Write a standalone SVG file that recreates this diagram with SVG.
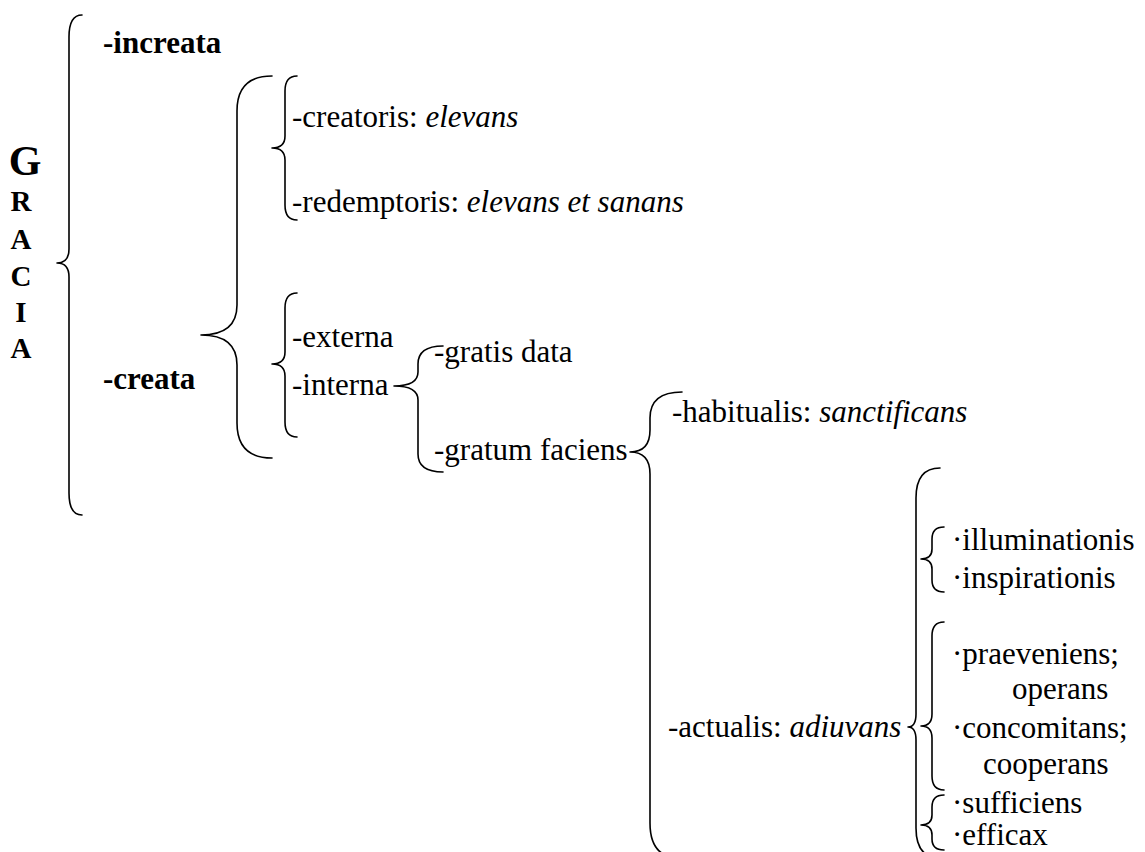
<svg xmlns="http://www.w3.org/2000/svg" width="1145" height="852" viewBox="0 0 1145 852">
<style>
.t{font-family:"Liberation Serif","Times New Roman",serif;font-size:31px;fill:#000}
.b{font-weight:bold}
.i{font-style:italic}
.br{fill:none;stroke:#000;stroke-width:1.6;stroke-linecap:round;stroke-linejoin:round}
.g{font-family:"Liberation Serif","Times New Roman",serif;font-weight:bold;fill:#000;text-anchor:middle}
</style>
<rect width="1145" height="852" fill="#fff"/>
<g id="connectors">
<path class="br" d="M82 15 Q69 15 69 37 L69 249 Q69 263 57 263 Q69 263 69 277 L69 493 Q69 515 82 515"/>
<path class="br" d="M272 76 Q237 76 237 111 L237 305 Q237 335 201 335 Q237 335 237 365 L237 423 Q237 458 272 458"/>
<path class="br" d="M297 76 Q285 76 285 91 L285 136 Q285 148 272 148 Q285 148 285 160 L285 205 Q285 220 297 220"/>
<path class="br" d="M297 293 Q285 293 285 308 L285 352 Q285 364 272 364 Q285 364 285 376 L285 422 Q285 437 297 437"/>
<path class="br" d="M443 346 Q418 346 418 364 L418 372 Q418 386 394 386 Q418 386 418 400 L418 454 Q418 472 443 472"/>
<path class="br" d="M682 392 Q650 392 650 418 L650 430 Q650 452 630 452 Q650 452 650 474 L650 823 Q650 858 680 858"/>
<path class="br" d="M940 468 Q916 468 916 498 L916 714 Q916 727 908 727 Q916 727 916 740 L916 828 Q916 858 940 858"/>
<path class="br" d="M944 527 Q932 527 932 539 L932 549 Q932 559 921 559 Q932 559 932 569 L932 580 Q932 592 944 592"/>
<path class="br" d="M944 622 Q932 622 932 636 L932 714 Q932 726 921 726 Q932 726 932 738 L932 776 Q932 790 944 790"/>
<path class="br" d="M944 795 Q932 795 932 807 L932 815 Q932 825 921 825 Q932 825 932 835 L932 839 Q932 850 944 850"/>
</g>
<g id="gracia">
<text class="g" x="25" y="175" font-size="42">G</text>
<text class="g" x="21" y="211" font-size="29">R</text>
<text class="g" x="21" y="249" font-size="29">A</text>
<text class="g" x="21" y="286" font-size="29">C</text>
<text class="g" x="21" y="322" font-size="29">I</text>
<text class="g" x="21" y="358" font-size="29">A</text>
</g>
<g id="increata"><text class="t b" x="103" y="53">-increata</text></g>
<g id="creata"><text class="t b" x="103" y="389">-creata</text></g>
<g id="creatoris"><text class="t" x="292" y="127">-creatoris: <tspan class="i">elevans</tspan></text></g>
<g id="redemptoris"><text class="t" x="292" y="212">-redemptoris: <tspan class="i">elevans et sanans</tspan></text></g>
<g id="externa"><text class="t" x="292" y="347">-externa</text></g>
<g id="interna"><text class="t" x="292" y="395">-interna</text></g>
<g id="gratis"><text class="t" x="434" y="362">-gratis data</text></g>
<g id="gratum"><text class="t" x="434" y="460">-gratum faciens</text></g>
<g id="habitualis"><text class="t" x="672" y="422">-habitualis: <tspan class="i">sanctificans</tspan></text></g>
<g id="actualis"><text class="t" x="668" y="737">-actualis: <tspan class="i">adiuvans</tspan></text></g>
<g id="illuminationis"><text class="t" x="952" y="550">·illuminationis</text></g>
<g id="inspirationis"><text class="t" x="952" y="588">·inspirationis</text></g>
<g id="praeveniens"><text class="t" x="952" y="664">·praeveniens;</text><text class="t" x="1012" y="699">operans</text></g>
<g id="concomitans"><text class="t" x="952" y="738">·concomitans;</text><text class="t" x="983" y="774">cooperans</text></g>
<g id="sufficiens"><text class="t" x="952" y="813">·sufficiens</text></g>
<g id="efficax"><text class="t" x="952" y="845">·efficax</text></g>
</svg>
